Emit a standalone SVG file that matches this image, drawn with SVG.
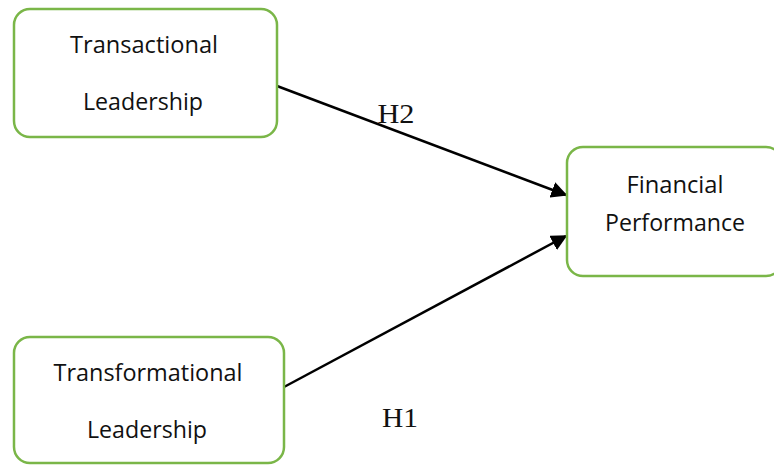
<svg xmlns="http://www.w3.org/2000/svg" width="774" height="465" viewBox="0 0 774 465">
<style>
.box{fill:#fff;stroke:#7ab648;stroke-width:2.5}
.t{font-family:"Open Sans","Liberation Sans",sans-serif;font-size:23px;fill:#111;text-anchor:middle}
.h{font-family:"Liberation Serif",serif;font-size:27px;fill:#111;text-anchor:middle}
.c{stroke:#000;stroke-width:2.5;fill:none}
</style>
<defs>
<marker id="ar" viewBox="0 0 10 10" refX="9" refY="5" markerWidth="6.5" markerHeight="6.5" orient="auto" markerUnits="strokeWidth">
<path d="M0,0 L10,5 L0,10 z" fill="#000"/>
</marker>
</defs>
<rect width="774" height="465" fill="#fff"/>
<g id="connectors">
<line class="c" x1="277" y1="86" x2="566" y2="195" marker-end="url(#ar)"/>
<line class="c" x1="284" y1="387" x2="566" y2="236" marker-end="url(#ar)"/>
</g>
<g id="transactional">
<rect class="box" x="14" y="9" width="263" height="128" rx="16"/>
<text class="t" x="144" y="53" textLength="148" lengthAdjust="spacingAndGlyphs">Transactional</text>
<text class="t" x="143" y="110" textLength="120" lengthAdjust="spacingAndGlyphs">Leadership</text>
</g>
<g id="transformational">
<rect class="box" x="14" y="337" width="270" height="126" rx="16"/>
<text class="t" x="148" y="381" textLength="189" lengthAdjust="spacingAndGlyphs">Transformational</text>
<text class="t" x="147" y="438" textLength="120" lengthAdjust="spacingAndGlyphs">Leadership</text>
</g>
<g id="financial">
<rect class="box" x="567" y="147" width="215" height="129" rx="16"/>
<text class="t" x="675" y="193" textLength="97" lengthAdjust="spacingAndGlyphs">Financial</text>
<text class="t" x="675" y="231" textLength="140" lengthAdjust="spacingAndGlyphs">Performance</text>
</g>
<g id="labels">
<text class="h" x="396" y="123" textLength="37" lengthAdjust="spacingAndGlyphs">H2</text>
<text class="h" x="400" y="427" textLength="36" lengthAdjust="spacingAndGlyphs">H1</text>
</g>
</svg>
